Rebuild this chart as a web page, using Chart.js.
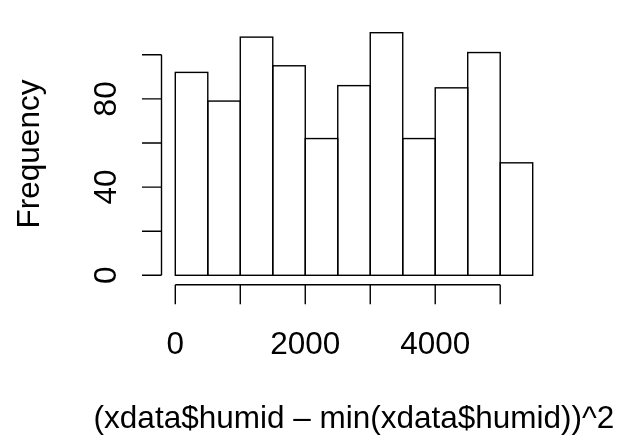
<!DOCTYPE html>
<html>
<head>
<meta charset="utf-8">
<script src="https://cdn.jsdelivr.net/npm/chart.js@4/dist/chart.umd.min.js"></script>
<style>
  html, body { margin: 0; padding: 0; background: #fff; }
  #wrap { width: 624px; height: 438px; position: relative; }
</style>
</head>
<body>
<div id="wrap"><canvas id="histChart"></canvas></div>
<script>
// histogram bins (left edges), bin width and counts
const binStarts = [0, 500, 1000, 1500, 2000, 2500, 3000, 3500, 4000, 4500, 5000];
const binWidth = 500;
const counts = [92, 79, 108, 95, 62, 86, 110, 62, 85, 101, 51];

// axis ticks, R style: not every tick gets a label
const xTicks = [0, 1000, 2000, 3000, 4000, 5000];
const xTickLabels = ['0', '', '2000', '', '4000', ''];
const yTicks = [0, 20, 40, 60, 80, 100];
const yTickLabels = ['0', '', '40', '', '80', ''];

const xTitle = '(xdata$humid \u2013 min(xdata$humid))^2';
const yTitle = 'Frequency';

const FONT = '31.5px "Liberation Sans", Arial, sans-serif';
const LW = 1.4;

// outline every bar like rect() in R: the shared edges are drawn once
const barOutlines = {
  id: 'barOutlines',
  afterDatasetsDraw(chart) {
    const ctx = chart.ctx;
    ctx.save();
    ctx.strokeStyle = '#000';
    ctx.lineWidth = LW;
    chart.getDatasetMeta(0).data.forEach(bar => {
      const { x, y, base, width } = bar.getProps(['x', 'y', 'base', 'width'], true);
      ctx.strokeRect(x - width / 2, y, width, base - y);
    });
    ctx.restore();
  }
};

// draws the detached base-R style axes and labels
const rAxes = {
  id: 'rAxes',
  afterDraw(chart) {
    const { ctx, chartArea } = chart;
    const xs = chart.scales.x;
    const ys = chart.scales.y;
    const tick = 19.5;
    ctx.save();
    ctx.strokeStyle = '#000';
    ctx.lineWidth = LW;
    ctx.fillStyle = '#000';
    ctx.font = FONT;

    // x axis
    const ax = chartArea.bottom - 0.3;
    ctx.beginPath();
    ctx.moveTo(xs.getPixelForValue(xTicks[0]), ax);
    ctx.lineTo(xs.getPixelForValue(xTicks[xTicks.length - 1]), ax);
    xTicks.forEach(v => {
      const px = xs.getPixelForValue(v);
      ctx.moveTo(px, ax);
      ctx.lineTo(px, ax + tick);
    });
    ctx.stroke();
    ctx.textAlign = 'center';
    ctx.textBaseline = 'alphabetic';
    xTicks.forEach((v, i) => {
      if (xTickLabels[i]) ctx.fillText(xTickLabels[i], xs.getPixelForValue(v), 354);
    });

    // y axis
    const ay = chartArea.left + 0.5;
    ctx.beginPath();
    ctx.moveTo(ay, ys.getPixelForValue(yTicks[0]));
    ctx.lineTo(ay, ys.getPixelForValue(yTicks[yTicks.length - 1]));
    yTicks.forEach(v => {
      const py = ys.getPixelForValue(v);
      ctx.moveTo(ay, py);
      ctx.lineTo(ay - tick, py);
    });
    ctx.stroke();
    yTicks.forEach((v, i) => {
      if (!yTickLabels[i]) return;
      ctx.save();
      ctx.translate(115.5, ys.getPixelForValue(v));
      ctx.rotate(-Math.PI / 2);
      ctx.fillText(yTickLabels[i], 0, 0);
      ctx.restore();
    });

    // titles
    ctx.fillText(xTitle, (chartArea.left + chartArea.right) / 2, 427.5);
    ctx.save();
    ctx.translate(39, (chartArea.top + chartArea.bottom) / 2);
    ctx.rotate(-Math.PI / 2);
    ctx.fillText(yTitle, 0, 0);
    ctx.restore();
    ctx.restore();
  }
};

new Chart(document.getElementById('histChart'), {
  type: 'bar',
  data: {
    datasets: [{
      data: binStarts.map((b, i) => ({ x: b + binWidth / 2, y: counts[i] })),
      backgroundColor: '#fff',
      borderWidth: 0,
      inflateAmount: 0,
      barPercentage: 1,
      categoryPercentage: 1
    }]
  },
  options: {
    responsive: true,
    maintainAspectRatio: false,
    animation: false,
    layout: { padding: { left: 161, right: 77, top: 23, bottom: 153 } },
    plugins: { legend: { display: false }, tooltip: { enabled: false } },
    scales: {
      // R pads the data range by 4% on each side
      x: {
        type: 'linear', display: false, offset: false, min: -220, max: 5720,
        afterBuildTicks: s => { s.ticks = xTicks.map(v => ({ value: v })); }
      },
      y: {
        type: 'linear', display: false, min: -4.4, max: 114.4,
        afterBuildTicks: s => { s.ticks = yTicks.map(v => ({ value: v })); }
      }
    }
  },
  plugins: [barOutlines, rAxes]
});
</script>
</body>
</html>
